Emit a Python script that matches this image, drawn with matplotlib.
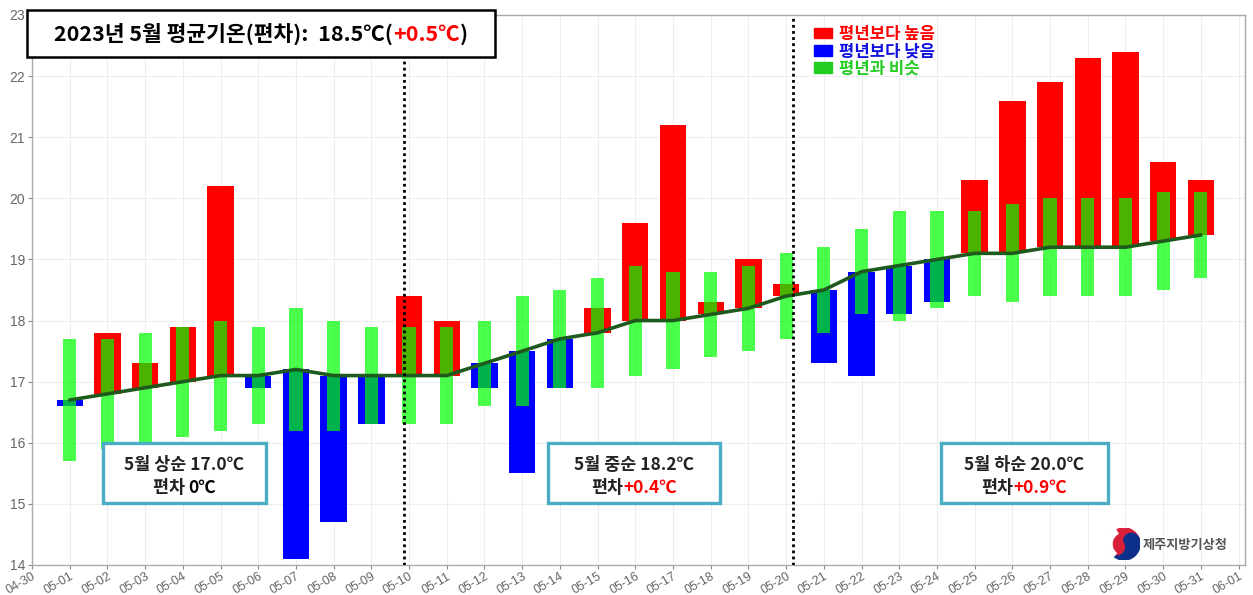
import matplotlib
matplotlib.use("Agg")
import matplotlib.pyplot as plt
from matplotlib.patches import Rectangle, Patch, Wedge, Circle

plt.rcParams['font.family'] = ['Noto Sans CJK KR', 'DejaVu Sans']

W, H = 1253, 595

tick_labels = ["04-30", "05-01", "05-02", "05-03", "05-04", "05-05", "05-06", "05-07",
               "05-08", "05-09", "05-10", "05-11", "05-12", "05-13", "05-14", "05-15",
               "05-16", "05-17", "05-18", "05-19", "05-20", "05-21", "05-22", "05-23",
               "05-24", "05-25", "05-26", "05-27", "05-28", "05-29", "05-30", "05-31",
               "06-01"]
days = list(range(1, 32))

normal = [16.7, 16.8, 16.9, 17.0, 17.1, 17.1, 17.2, 17.1, 17.1, 17.1,
          17.1, 17.3, 17.5, 17.7, 17.8, 18.0, 18.0, 18.1, 18.2, 18.4,
          18.5, 18.8, 18.9, 19.0, 19.1, 19.1, 19.2, 19.2, 19.2, 19.3, 19.4]
actual = [16.6, 17.8, 17.3, 17.9, 20.2, 16.9, 14.1, 14.7, 16.3, 18.4,
          18.0, 16.9, 15.5, 16.9, 18.2, 19.6, 21.2, 18.3, 19.0, 18.6,
          17.3, 17.1, 18.1, 18.3, 20.3, 21.6, 21.9, 22.3, 22.4, 20.6, 20.3]
similar_low = [15.7, 15.9, 16.0, 16.1, 16.2, 16.3, 16.2, 16.2, 16.3, 16.3,
               16.3, 16.6, 16.6, 16.9, 16.9, 17.1, 17.2, 17.4, 17.5, 17.7,
               17.8, 18.1, 18.0, 18.2, 18.4, 18.3, 18.4, 18.4, 18.4, 18.5, 18.7]
similar_high = [17.7, 17.7, 17.8, 17.9, 18.0, 17.9, 18.2, 18.0, 17.9, 17.9,
                17.9, 18.0, 18.4, 18.5, 18.7, 18.9, 18.8, 18.8, 18.9, 19.1,
                19.2, 19.5, 19.8, 19.8, 19.8, 19.9, 20.0, 20.0, 20.0, 20.1, 20.1]
dekad_lines = [9.86, 20.18]

fig = plt.figure(figsize=(W / 100, H / 100), dpi=100)
ax_left, ax_right, ax_top, ax_bottom = 32, 1245, 15, 565
ax = fig.add_axes([ax_left / W, 1 - ax_bottom / H, (ax_right - ax_left) / W, (ax_bottom - ax_top) / H])

def fx(x):
    return x / W

def fy(y):
    return 1 - y / H

# deviation bars
cols = ['#ff0000' if a >= n else '#0000ff' for a, n in zip(actual, normal)]
ax.bar(days, [a - n for a, n in zip(actual, normal)], bottom=normal, width=0.7,
       color=cols, zorder=2)
# similar range bars
ax.bar(days, [h - l for h, l in zip(similar_high, similar_low)], bottom=similar_low,
       width=0.35, color='#00ff00', alpha=0.7, zorder=3, linewidth=0)
# normal line
ax.plot(days, normal, color='#1e5a1e', lw=2.6, zorder=4, solid_capstyle='round')

for d in dekad_lines:
    ax.axvline(d, color='black', ls=(0, (1, 1.2)), lw=2.0, zorder=5)

ax.set_xlim(0, 32.17)
ax.set_ylim(14, 23)
ax.set_xticks(range(len(tick_labels)))
ax.set_xticklabels(tick_labels, rotation=30, ha='right', rotation_mode='anchor',
                   fontsize=9, color='#666666', family=['Liberation Sans', 'DejaVu Sans'])
ax.set_yticks(range(14, 24))
ax.set_yticklabels([str(v) for v in range(14, 24)], fontsize=10, color='#666666',
                   family=['Liberation Sans', 'DejaVu Sans'])
ax.tick_params(axis='both', length=3, color='#888888', pad=2)
ax.tick_params(axis='x', pad=1)
ax.grid(True, color='#eeeeee', lw=0.8, zorder=0)
ax.set_axisbelow(True)
for s in ax.spines.values():
    s.set_color('#aaaaaa')
    s.set_linewidth(1.0)

# legend
handles = [Patch(color='#ff0000'), Patch(color='#0000ff'), Patch(color='#22cc22')]
labels = ['평년보다 높음', '평년보다 낮음', '평년과 비슷']
leg = ax.legend(handles, labels, loc='upper left', bbox_to_anchor=(fx(799), fy(10)),
                bbox_transform=fig.transFigure, frameon=False,
                handlelength=1.05, handleheight=0.6, handletextpad=0.45, labelspacing=-0.05,
                prop={'weight': 'bold', 'size': 12})
for t, c in zip(leg.get_texts(), ['#ff0000', '#1010e0', '#22cc22']):
    t.set_color(c)

fig.canvas.draw()
renderer = fig.canvas.get_renderer()

def run_text(x, y, parts, size, weight, center=False):
    """Place consecutive text pieces (text, color, kern) on one baseline."""
    objs = []
    widths = []
    for s, c, k in parts:
        t = fig.text(0, fy(y), s, fontsize=size, fontweight=weight, color=c,
                     va='baseline', ha='left', zorder=11)
        objs.append(t)
        widths.append(t.get_window_extent(renderer).width + k)
    total = sum(widths)
    cur = x - total / 2 if center else x
    for t, w in zip(objs, widths):
        t.set_x(fx(cur))
        cur += w
    return objs

# title box
fig.patches.append(Rectangle((fx(27), fy(57)), fx(495) - fx(27), fy(10) - fy(57),
                             transform=fig.transFigure, facecolor='white',
                             edgecolor='black', lw=1.8, zorder=10))
run_text(54, 41, [('2023년 5월 평균기온(편차):  18.5℃(', 'black', 0),
                  ('+0.5℃', '#ff0000', 0), (')', 'black', 0)], 15.5, 'bold')

# dekad boxes
boxes = [(103, 266, '5월 상순 17.0℃', '편차 ', '0℃', 'black'),
         (548, 720, '5월 중순 18.2℃', '편차', '+0.4℃', '#ff0000'),
         (941, 1108, '5월 하순 20.0℃', '편차', '+0.9℃', '#ff0000')]
for x0, x1, line1, lab, val, vc in boxes:
    fig.patches.append(Rectangle((fx(x0), fy(503)), fx(x1) - fx(x0), fy(443) - fy(503),
                                 transform=fig.transFigure, facecolor='white',
                                 edgecolor='#4bacc6', lw=2.4, zorder=10))
    cx = (x0 + x1) / 2
    run_text(cx, 470, [(line1, '#222222', 0)], 12.5, 'bold', center=True)
    run_text(cx, 493, [(lab, '#222222', 0), (val, vc, 0)], 12.5, 'bold', center=True)

# logo
lx, ly, lr = 1124, 544, 16
logo_ax = fig.add_axes([fx(lx - lr), fy(ly + lr), 2 * lr / W, 2 * lr / H])
logo_ax.set_xlim(-1, 1)
logo_ax.set_ylim(-1, 1)
logo_ax.axis('off')
logo_ax.add_patch(Wedge((0, 0), 1, 200, 380, color='#0b2f8a'))
logo_ax.add_patch(Wedge((0, 0), 1, 20, 200, color='#d8203a'))
logo_ax.add_patch(Circle((0.47, 0.17), 0.5, color='#0b2f8a'))
logo_ax.add_patch(Circle((-0.47, -0.17), 0.5, color='#d8203a'))
logo_ax.add_patch(Wedge((0, 0), 1.05, 120, 230, width=0.3, color='white'))
fig.text(fx(1143), fy(545), '제주지방기상청', fontsize=9.5, fontweight='bold',
         color='#555555', va='center', ha='left', zorder=11)

fig.savefig('out.png', dpi=100)
